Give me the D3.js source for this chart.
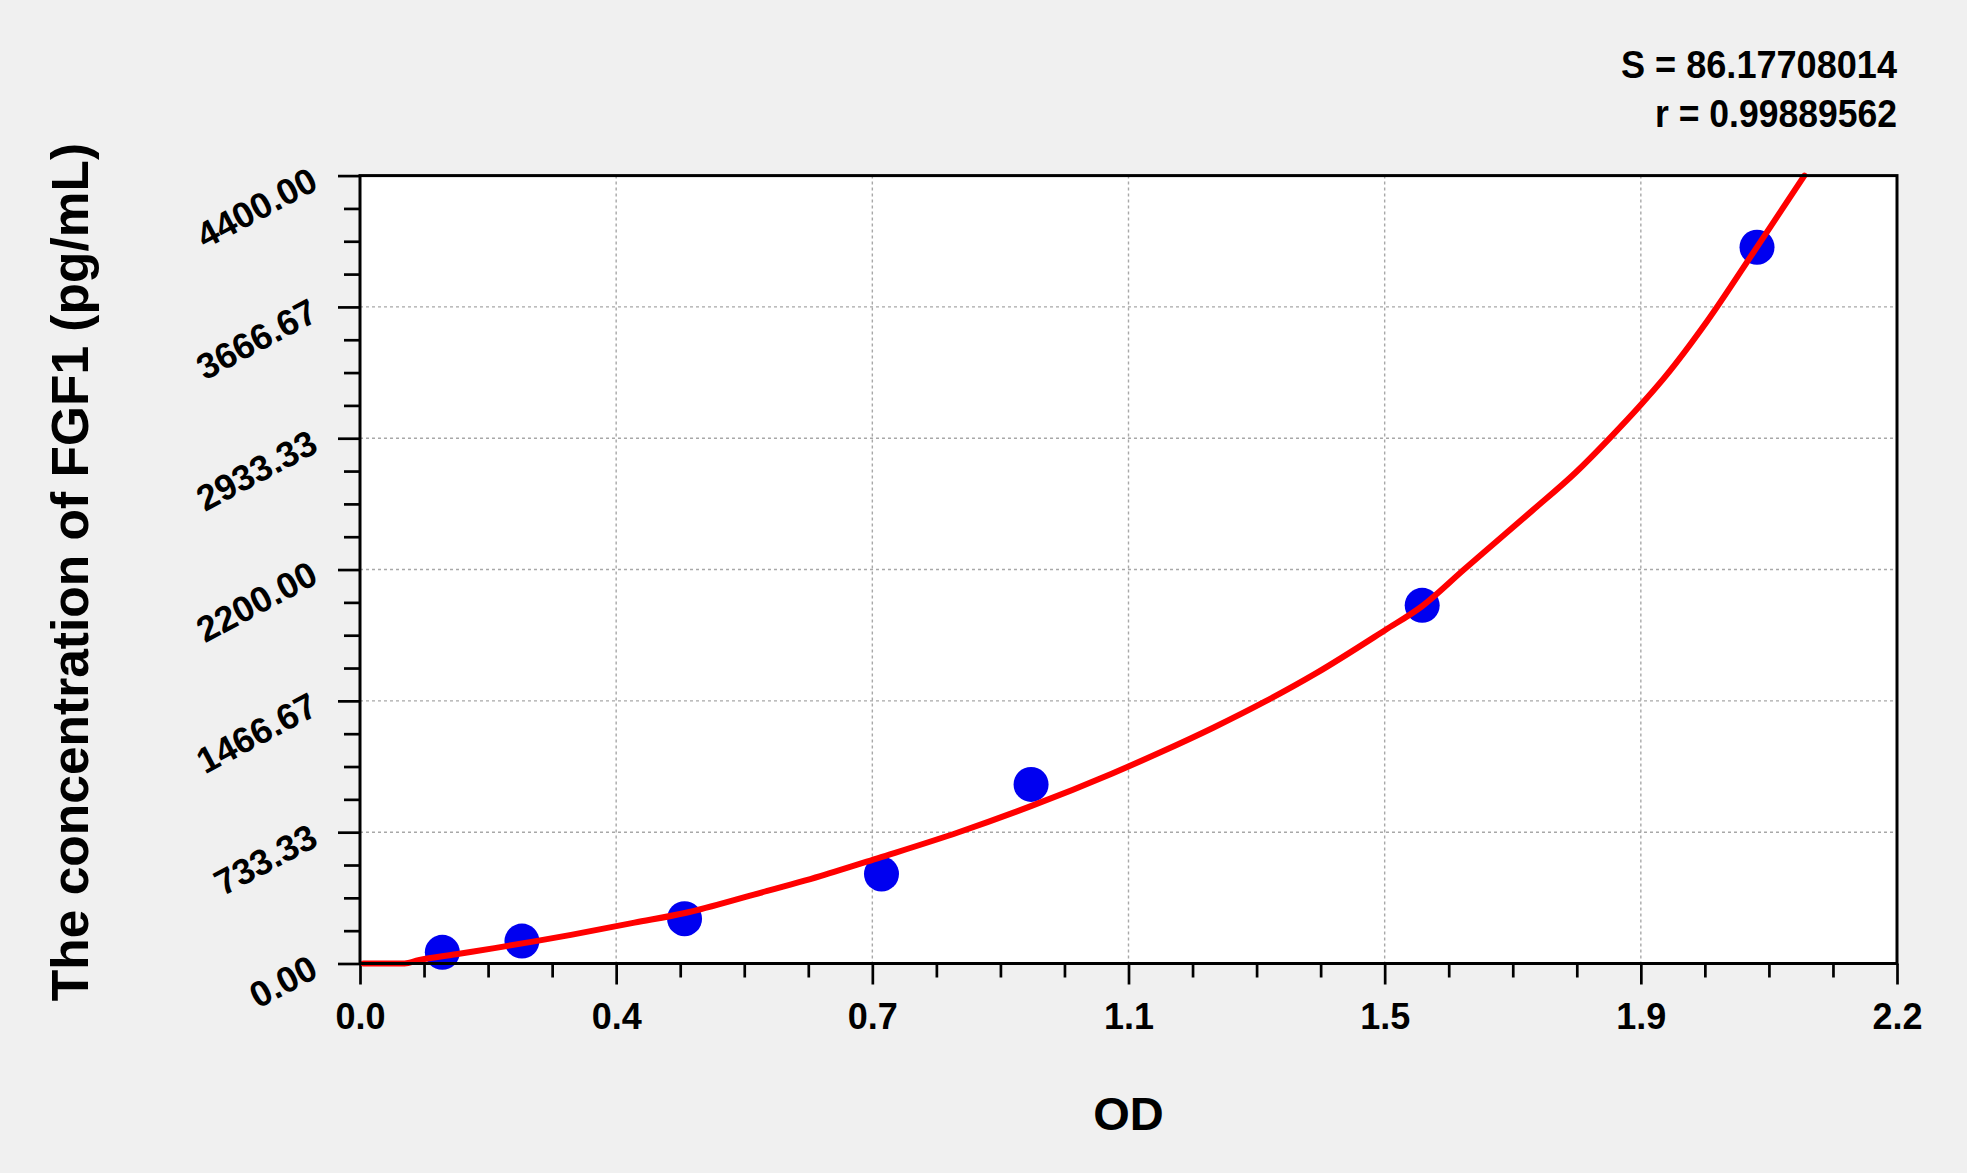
<!DOCTYPE html>
<html>
<head>
<meta charset="utf-8">
<script src="https://cdn.jsdelivr.net/npm/d3@7"></script>
<style>
  html, body { margin: 0; padding: 0; background: #f0f0f0; }
  svg { display: block; }
  text { font-family: "Liberation Sans", Arial, Helvetica, sans-serif; font-weight: bold; fill: #000; }
</style>
</head>
<body>
<svg id="chart" width="1967" height="1173"></svg>
<script>
// ---- data ----
const xMax = 2.24;
const yMax = 4400;
const xTickLabels = ["0.0", "0.4", "0.7", "1.1", "1.5", "1.9", "2.2"];
const yTickLabels = ["0.00", "733.33", "1466.67", "2200.00", "2933.33", "3666.67", "4400.00"];
const odValues = [0.120, 0.236, 0.473, 0.760, 0.978, 1.548, 2.036];
const concValues = [62.5, 125, 250, 500, 1000, 2000, 4000];
const curveOD = [0.005, 0.065, 0.085, 0.14, 0.196, 0.252, 0.3075, 0.351, 0.40, 0.4737, 0.5741, 0.6708, 0.7563, 0.8724, 0.9787, 1.0955, 1.1698, 1.2442, 1.3186, 1.393, 1.4933, 1.5478, 1.609, 1.655, 1.7084, 1.7717, 1.8204, 1.8667, 1.9007, 1.963, 2.033, 2.105];
const curveConc = [0, 0, 18, 52, 86, 122, 160, 192, 228, 282, 385, 488, 590, 733, 880, 1060, 1185, 1318, 1462, 1620, 1860, 1995, 2200, 2352, 2529, 2742, 2930, 3120, 3270, 3585, 3984, 4400];
const statsLines = ["S = 86.17708014", "r = 0.99889562"];
const xTitle = "OD";
const yTitle = "The concentration of FGF1 (pg/mL)";

// ---- layout ----
const svg = d3.select("#chart");
const L = 360, R = 1897, T = 175.6, B = 963.5;

const x = d3.scaleLinear().domain([0, xMax]).range([L, R]);
const y = d3.scaleLinear().domain([0, yMax]).range([B, T]);

const xMajor = d3.range(7).map(i => xMax * i / 6);
const xMinor = d3.range(25).filter(i => i % 4 !== 0).map(i => xMax * i / 24);
const yMajor = d3.range(7).map(i => yMax * i / 6);
const yMinor = d3.range(25).filter(i => i % 4 !== 0).map(i => yMax * i / 24);

// background
svg.append("rect").attr("width", 1967).attr("height", 1173).attr("fill", "#f0f0f0");
// plot area
svg.append("rect").attr("x", L).attr("y", T).attr("width", R - L).attr("height", B - T).attr("fill", "#fff");

// grid
const grid = svg.append("g").attr("stroke", "#a8a8a8").attr("stroke-width", 1.4).attr("stroke-dasharray", "3,3");
grid.selectAll("line.gx").data(xMajor.slice(1, -1)).join("line")
  .attr("x1", d => x(d)).attr("x2", d => x(d)).attr("y1", T).attr("y2", B);
grid.selectAll("line.gy").data(yMajor.slice(1, -1)).join("line")
  .attr("x1", L).attr("x2", R).attr("y1", d => y(d)).attr("y2", d => y(d));

// axes
const xAxisMajor = d3.axisBottom(x).tickValues(xMajor).tickSize(21).tickPadding(18.5)
  .tickFormat((d, i) => xTickLabels[i]);
const xAxisMinor = d3.axisBottom(x).tickValues(xMinor).tickSize(14).tickFormat("");
const yAxisMajor = d3.axisLeft(y).tickValues(yMajor).tickSize(22)
  .tickFormat((d, i) => yTickLabels[i]);
const yAxisMinor = d3.axisLeft(y).tickValues(yMinor).tickSize(16).tickFormat("");

function styleAxis(g) {
  g.select(".domain").remove();
  g.selectAll("line").attr("stroke", "#000").attr("stroke-width", 2.7);
}

svg.append("g").attr("transform", `translate(0,${B})`).call(xAxisMinor).call(styleAxis);
const gx = svg.append("g").attr("transform", `translate(0,${B})`).call(xAxisMajor).call(styleAxis);
gx.selectAll("text").style("font-size", "36px").style("font-family", "'Liberation Sans', Arial, sans-serif").style("font-weight", "bold").attr("fill", "#000");

svg.append("g").attr("transform", `translate(${L},0)`).call(yAxisMinor).call(styleAxis);
const gy = svg.append("g").attr("transform", `translate(${L},0)`).call(yAxisMajor).call(styleAxis);
gy.selectAll("text")
  .style("font-size", "36px").style("font-family", "'Liberation Sans', Arial, sans-serif").style("font-weight", "bold")
  .attr("fill", "#000")
  .attr("text-anchor", "end")
  .attr("x", -46).attr("y", 1).attr("dy", "0.35em")
  .attr("transform", "rotate(-28,-46,1)");

// curve
const line = d3.line().x(d => x(d[0])).y(d => y(d[1])).curve(d3.curveMonotoneX);
const curveData = curveOD.map((v, i) => [v, curveConc[i]]);
// points
svg.append("g").selectAll("circle").data(odValues.map((v, i) => [v, concValues[i]])).join("circle")
  .attr("cx", d => x(d[0])).attr("cy", d => y(d[1])).attr("r", 17.5).attr("fill", "#0000f0");
svg.append("path").datum(curveData).attr("d", line)
  .attr("fill", "none").attr("stroke", "#ff0000").attr("stroke-width", 6).attr("stroke-linejoin", "round").attr("stroke-linecap", "round");

// frame
svg.append("rect").attr("x", L).attr("y", T).attr("width", R - L).attr("height", B - T)
  .attr("fill", "none").attr("stroke", "#000").attr("stroke-width", 3);

// stats text
const statLens = [276, 242];
svg.append("g").selectAll("text").data(statsLines).join("text")
  .attr("x", R).attr("y", (d, i) => 78 + i * 48.5)
  .attr("text-anchor", "end").style("font-size", "38px")
  .attr("textLength", (d, i) => statLens[i]).attr("lengthAdjust", "spacingAndGlyphs")
  .text(d => d);

// axis titles
svg.append("text").attr("x", (L + R) / 2).attr("y", 1130).attr("text-anchor", "middle")
  .style("font-size", "47px").text(xTitle);
svg.append("text").attr("transform", "translate(88,572) rotate(-90)").attr("text-anchor", "middle")
  .style("font-size", "51.5px").text(yTitle);
</script>
</body>
</html>
